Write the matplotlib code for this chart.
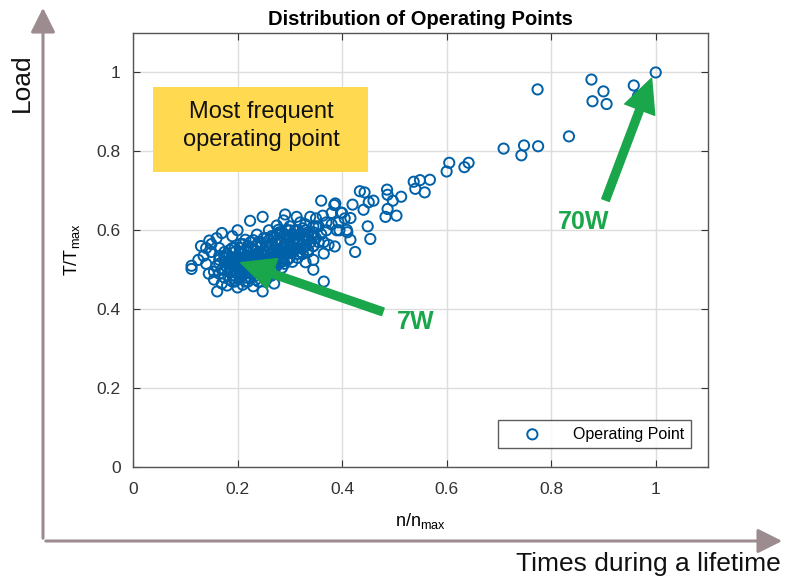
import matplotlib
matplotlib.use("Agg")
import matplotlib.pyplot as plt
from matplotlib.patches import FancyArrowPatch, Rectangle

plt.rcParams['font.family'] = ['Liberation Sans', 'DejaVu Sans']

# ---- data ----
sparse_x = [1.000, 0.877, 0.900, 0.906, 0.879, 0.958, 0.966, 0.774, 0.834, 0.709, 0.748, 0.743, 0.775,
            0.605, 0.600, 0.642, 0.634, 0.568, 0.549, 0.537, 0.540, 0.558, 0.513, 0.486, 0.487, 0.497,
            0.487, 0.483, 0.504, 0.449, 0.454, 0.425, 0.434, 0.443, 0.460, 0.451, 0.441, 0.420, 0.398,
            0.385, 0.416, 0.409, 0.393, 0.416, 0.386, 0.400]
sparse_y = [1.000, 0.982, 0.952, 0.920, 0.927, 0.967, 0.940, 0.957, 0.838, 0.807, 0.815, 0.790, 0.813,
            0.771, 0.749, 0.771, 0.760, 0.728, 0.727, 0.723, 0.705, 0.696, 0.685, 0.703, 0.690, 0.675,
            0.654, 0.634, 0.637, 0.610, 0.578, 0.545, 0.699, 0.696, 0.675, 0.671, 0.652, 0.665, 0.645,
            0.664, 0.631, 0.601, 0.620, 0.576, 0.559, 0.644]

edge_x = [0.360, 0.387, 0.248, 0.291, 0.313, 0.339, 0.363, 0.288, 0.380, 0.278, 0.410, 0.374, 0.365,
          0.345, 0.330, 0.345, 0.365, 0.224, 0.170, 0.112, 0.112, 0.125, 0.140, 0.146, 0.161, 0.248,
          0.215, 0.237, 0.130, 0.140, 0.150, 0.135, 0.150, 0.160, 0.165, 0.145, 0.155, 0.170, 0.180,
          0.190, 0.200, 0.210, 0.220, 0.230, 0.240, 0.255, 0.265, 0.270, 0.300, 0.320, 0.330, 0.350,
          0.370, 0.260, 0.275, 0.200, 0.190, 0.350, 0.395, 0.405]
edge_y = [0.675, 0.668, 0.634, 0.640, 0.634, 0.634, 0.637, 0.625, 0.644, 0.601, 0.595, 0.563, 0.541,
          0.525, 0.519, 0.500, 0.470, 0.624, 0.593, 0.510, 0.502, 0.525, 0.515, 0.574, 0.445, 0.445,
          0.576, 0.589, 0.560, 0.555, 0.545, 0.535, 0.565, 0.580, 0.555, 0.490, 0.475, 0.465, 0.460,
          0.470, 0.455, 0.462, 0.470, 0.458, 0.470, 0.475, 0.485, 0.465, 0.610, 0.620, 0.615, 0.630,
          0.620, 0.600, 0.612, 0.600, 0.585, 0.610, 0.600, 0.630]

core_x = [0.170, 0.175, 0.180, 0.180, 0.185, 0.185, 0.190, 0.190, 0.190, 0.195, 0.195, 0.200, 0.200,
          0.200, 0.205, 0.205, 0.210, 0.210, 0.210, 0.215, 0.215, 0.220, 0.220, 0.220, 0.225, 0.225,
          0.230, 0.230, 0.230, 0.235, 0.235, 0.240, 0.240, 0.240, 0.245, 0.245, 0.250, 0.250, 0.250,
          0.255, 0.255, 0.260, 0.260, 0.260, 0.265, 0.265, 0.270, 0.270, 0.270, 0.275, 0.275, 0.280,
          0.280, 0.280, 0.285, 0.285, 0.290, 0.290, 0.290, 0.295, 0.300, 0.300, 0.300, 0.305, 0.310,
          0.310, 0.315, 0.320, 0.320, 0.325, 0.330, 0.330, 0.335, 0.340, 0.345, 0.350, 0.355, 0.360,
          0.365, 0.370, 0.380, 0.390, 0.175, 0.165, 0.160, 0.155, 0.185, 0.195, 0.205, 0.215, 0.225,
          0.235, 0.245, 0.255, 0.265, 0.275, 0.285, 0.295, 0.305, 0.315, 0.325, 0.335, 0.345, 0.355,
          0.210, 0.230, 0.250, 0.270, 0.290, 0.310, 0.330, 0.190, 0.220, 0.240, 0.260, 0.280, 0.300]
core_y = [0.500, 0.520, 0.505, 0.540, 0.495, 0.525, 0.510, 0.485, 0.530, 0.500, 0.545, 0.515, 0.490,
          0.530, 0.505, 0.555, 0.520, 0.495, 0.540, 0.510, 0.480, 0.525, 0.500, 0.545, 0.515, 0.490,
          0.530, 0.505, 0.550, 0.520, 0.485, 0.540, 0.510, 0.495, 0.525, 0.560, 0.515, 0.535, 0.500,
          0.545, 0.520, 0.530, 0.505, 0.555, 0.540, 0.515, 0.550, 0.525, 0.500, 0.565, 0.535, 0.545,
          0.520, 0.575, 0.555, 0.530, 0.565, 0.540, 0.515, 0.550, 0.575, 0.560, 0.530, 0.545, 0.580,
          0.555, 0.565, 0.590, 0.545, 0.575, 0.560, 0.600, 0.585, 0.570, 0.595, 0.580, 0.610, 0.590,
          0.570, 0.600, 0.615, 0.600, 0.535, 0.525, 0.510, 0.495, 0.515, 0.525, 0.540, 0.530, 0.535,
          0.500, 0.505, 0.510, 0.525, 0.520, 0.540, 0.525, 0.550, 0.540, 0.555, 0.545, 0.560, 0.570,
          0.565, 0.575, 0.580, 0.585, 0.590, 0.600, 0.585, 0.555, 0.560, 0.570, 0.575, 0.595, 0.600]

dense_x = [0.165, 0.165, 0.165,
           0.175, 0.175, 0.175, 0.175,
           0.185, 0.185, 0.185, 0.185,
           0.195, 0.195, 0.195, 0.195, 0.195,
           0.205, 0.205, 0.205, 0.205, 0.205,
           0.215, 0.215, 0.215, 0.215, 0.215,
           0.225, 0.225, 0.225, 0.225, 0.225,
           0.235, 0.235, 0.235, 0.235, 0.235,
           0.245, 0.245, 0.245, 0.245, 0.245,
           0.255, 0.255, 0.255, 0.255, 0.255,
           0.265, 0.265, 0.265, 0.265, 0.265,
           0.275, 0.275, 0.275, 0.275, 0.275,
           0.285, 0.285, 0.285, 0.285, 0.285,
           0.295, 0.295, 0.295, 0.295, 0.295,
           0.305, 0.305, 0.305, 0.305,
           0.315, 0.315, 0.315, 0.315,
           0.325, 0.325, 0.325, 0.325,
           0.335, 0.335, 0.335,
           0.345, 0.345, 0.345]
dense_y = [0.490, 0.515, 0.535,
           0.480, 0.500, 0.530, 0.545,
           0.475, 0.505, 0.520, 0.550,
           0.485, 0.510, 0.530, 0.555, 0.470,
           0.480, 0.495, 0.520, 0.545, 0.565,
           0.490, 0.505, 0.530, 0.550, 0.470,
           0.480, 0.510, 0.525, 0.555, 0.570,
           0.495, 0.515, 0.540, 0.560, 0.475,
           0.490, 0.510, 0.530, 0.545, 0.570,
           0.495, 0.515, 0.535, 0.560, 0.580,
           0.500, 0.525, 0.545, 0.565, 0.585,
           0.510, 0.530, 0.550, 0.575, 0.590,
           0.505, 0.520, 0.545, 0.570, 0.595,
           0.525, 0.540, 0.560, 0.580, 0.600,
           0.520, 0.550, 0.570, 0.590,
           0.530, 0.555, 0.575, 0.600,
           0.540, 0.565, 0.585, 0.605,
           0.550, 0.575, 0.595,
           0.560, 0.585, 0.610]

points_x = sparse_x + edge_x + core_x + dense_x
points_y = sparse_y + edge_y + core_y + dense_y

xticks = [0, 0.2, 0.4, 0.6, 0.8, 1.0]
xticklabels = ['0', '0.2', '0.4', '0.6', '0.8', '1']
yticks = [0, 0.2, 0.4, 0.6, 0.8, 1.0]
yticklabels = ['0', '0.2', '0.4', '0.6', '0.8', '1']

blue = '#0061A8'
green = '#1AA64A'
mauve = '#9C8C90'

fig = plt.figure(figsize=(7.87, 5.82), dpi=100)
ax = fig.add_axes([133/787, 1 - 467/582, (708-133)/787, (467-33)/582])

ax.scatter(points_x, points_y, s=54, facecolors='none', edgecolors=blue,
           linewidths=1.4, label='Operating Point', zorder=3)

ax.set_xlim(0, 1.1)
ax.set_ylim(0, 1.1)
ax.set_xticks(xticks)
ax.set_xticklabels(xticklabels)
ax.set_yticks(yticks)
ax.set_yticklabels(yticklabels)
ax.grid(True, color='#DDDDDD', linewidth=1.0, zorder=0)
ax.set_axisbelow(True)
ax.tick_params(direction='in', length=5, colors='#333333', labelsize=12.5,
               top=True, right=True, labeltop=False, labelright=False)
ax.tick_params(axis='x', pad=11)
ax.tick_params(axis='y', pad=9)
for sp in ax.spines.values():
    sp.set_color('#555555')
    sp.set_linewidth(1.0)

ax.set_title('Distribution of Operating Points', fontsize=14.5, fontweight='bold', pad=6)
ax.set_xlabel('n/n$_{\\mathregular{max}}$', fontsize=13, labelpad=10)
ax.set_ylabel('T/T$_{\\mathregular{max}}$', fontsize=13, labelpad=10)

leg = ax.legend(loc='lower right', bbox_to_anchor=(0.97, 0.044), fancybox=False,
                edgecolor='#333333', fontsize=11.5, handletextpad=0.8, borderpad=0.4,
                handlelength=3.5, borderaxespad=0, markerscale=1.0)
leg.get_frame().set_linewidth(1.0)

# yellow box
fig.patches.append(Rectangle((153/787, 1 - 172/582), (368-153)/787, (172-87)/582,
                             transform=fig.transFigure, facecolor='#FFD94F', edgecolor='none', zorder=5))
fig.text(261/787, 1 - 126/582, 'Most frequent\noperating point', ha='center', va='center',
         fontsize=17, color='#111111', linespacing=1.38, zorder=6)

# green arrows (data coordinates)
for tail, tip in [((0.483, 0.391), (0.201, 0.520)), ((0.902, 0.670), (0.994, 0.992))]:
    arr = FancyArrowPatch(tail, tip, arrowstyle='simple,head_length=1.1,head_width=1.05,tail_width=0.26',
                          mutation_scale=22, color=green, zorder=7)
    ax.add_patch(arr)
fig.text(416/787, 1 - 322/582, '7W', fontsize=18, fontweight='bold', color=green, ha='center', va='center')
fig.text(584/787, 1 - 222/582, '70W', fontsize=18, fontweight='bold', color=green, ha='center', va='center')

# outer arrows
fig.patches.append(FancyArrowPatch((43/787, 1 - 541/582), (43/787, 1 - 5/582), transform=fig.transFigure,
                                   arrowstyle='-|>,head_length=1.0,head_width=0.5', mutation_scale=15,
                                   color=mauve, linewidth=2.2))
fig.patches.append(FancyArrowPatch((43/787, 1 - 541/582), (785/787, 1 - 541/582), transform=fig.transFigure,
                                   arrowstyle='-|>,head_length=1.0,head_width=0.5', mutation_scale=15,
                                   color=mauve, linewidth=2.2))
fig.text(22/787, 1 - 83/582, 'Load', rotation=90, fontsize=19, ha='center', va='center', color='#111111')
fig.text(781/787, 1 - 564/582, 'Times during a lifetime', fontsize=19, ha='right', va='center', color='#111111')

fig.savefig('out.png', dpi=100)
